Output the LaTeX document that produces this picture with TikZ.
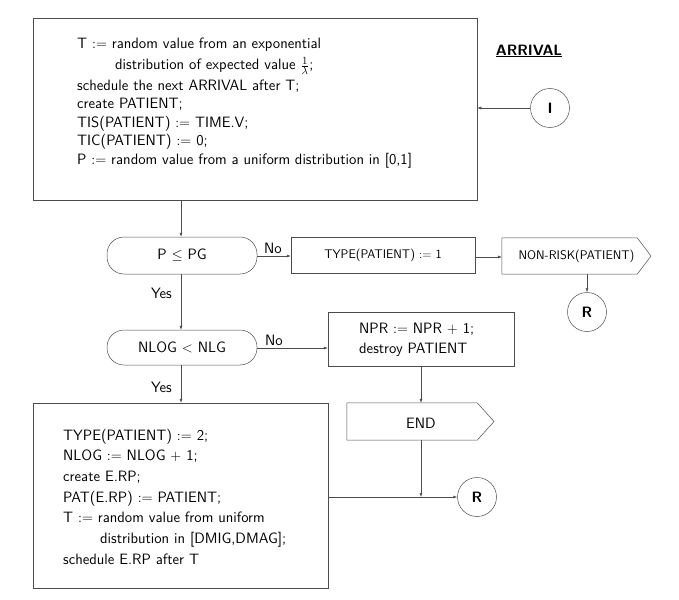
\documentclass[tikz,border=0pt]{standalone}
\usetikzlibrary{arrows.meta}
\begin{document}
\begin{tikzpicture}[x=1pt,y=-1pt,
  font=\fontsize{15}{18}\sffamily,
  line/.style={draw=black!70, line width=0.5pt},
  arr/.style={line, -{Latex[length=4pt,width=3pt]}},
  box/.style={line, rectangle, inner sep=0pt},
  pill/.style={line, rectangle, rounded corners=17pt, inner sep=0pt},
  circ/.style={line, circle, minimum size=39pt, inner sep=0pt, font=\fontsize{15}{18}\sffamily\bfseries},
  txt/.style={anchor=base west, inner sep=0pt},
  small/.style={font=\fontsize{12.5}{15}\sffamily},
  lab/.style={inner sep=0pt}]
\useasboundingbox (0,0) rectangle (679,599);

% top box
\node[box, minimum width=444pt, minimum height=182pt] (top) at (255,109) {};
\node[txt] (a1) at (77,49) {T $:=$ random value from an exponential};
\node[txt] (a2) at (115,70) {distribution of expected value $\frac{1}{\lambda}$;};
\node[txt] (a3) at (77,91) {schedule the next ARRIVAL after T;};
\node[txt] (a4) at (77,109) {create PATIENT;};
\node[txt] (a5) at (77,128) {TIS(PATIENT) $:=$ TIME.V;};
\node[txt] (a6) at (77,145) {TIC(PATIENT) $:=$ 0;};
\node[txt] (a7) at (77,164) {P $:=$ random value from a uniform distribution in [0,1]};

\node[lab, font=\fontsize{15}{18}\sffamily\bfseries] (arrival) at (529,51) {\underline{ARRIVAL}};
\node[circ] (I) at (550,108) {I};
\draw[arr] (I.west) -- (I.west -| top.east);

% decision P <= PG
\node[pill, minimum width=150pt, minimum height=37pt] (pg) at (182,255.5) {P $\leq$ PG};
\draw[arr] (top.south -| 181,0) -- (pg.north -| 181,0);
\node[box, small, minimum width=184pt, minimum height=36pt] (type1) at (383,255) {TYPE(PATIENT) $:=$ 1};
\draw[arr] (pg.east |- 0,256) -- (type1.west |- 0,256);
\node[lab, anchor=base west] (no1) at (264,253) {No};
\node[small, minimum width=135pt, minimum height=36pt, inner sep=0pt] (nonrisk) at (569.5,256) {};
\draw[line] (nonrisk.north west) -- (nonrisk.north east) -- (651,256) -- (nonrisk.south east) -- (nonrisk.south west) -- cycle;
\node[lab, small] (nrtext) at (576.5,256) {NON-RISK(PATIENT)};
\draw[arr] (type1.east |- 0,257) -- (nonrisk.west |- 0,257);
\node[circ] (R1) at (587,312) {R};
\draw[arr] (R1.north |- nonrisk.south) -- (R1.north);

% decision NLOG < NLG
\node[lab] (yes1) at (161.5,293) {Yes};
\node[pill, minimum width=150pt, minimum height=35pt] (nlog) at (182,347.5) {NLOG $<$ NLG};
\draw[arr] (pg.south -| 181,0) -- (nlog.north -| 181,0);
\node[box, minimum width=186pt, minimum height=54pt] (npr) at (421,339) {};
\node[txt] (n1) at (359,333) {NPR $:=$ NPR $+$ 1;};
\node[txt] (n2) at (359,353) {destroy PATIENT};
\draw[arr] (nlog.east |- 0,348) -- (npr.west |- 0,348);
\node[lab, anchor=base west] (no2) at (265,345) {No};

% END
\node[minimum width=130pt, minimum height=37pt, inner sep=0pt] (endn) at (412,421.5) {};
\draw[line] (endn.north west) -- (endn.north east) -- (494,421.5) -- (endn.south east) -- (endn.south west) -- cycle;
\node[lab] (endtext) at (421,423) {END};
\draw[arr] (npr.south -| 421,0) -- (endn.north -| 421,0);

% bottom box
\node[lab] (yes2) at (161.5,387) {Yes};
\node[box, minimum width=295pt, minimum height=185pt] (bot) at (180.5,495.5) {};
\draw[arr] (nlog.south -| 181,0) -- (bot.north -| 181,0);
\node[txt] (b1) at (63,440) {TYPE(PATIENT) $:=$ 2;};
\node[txt] (b2) at (63,460) {NLOG $:=$ NLOG $+$ 1;};
\node[txt] (b3) at (63,481) {create E.RP;};
\node[txt] (b4) at (63,502) {PAT(E.RP) $:=$ PATIENT;};
\node[txt] (b5) at (63,522) {T $:=$ random value from uniform};
\node[txt] (b6) at (100,543) {distribution in [DMIG,DMAG];};
\node[txt] (b7) at (63,564) {schedule E.RP after T};

\node[circ] (R2) at (477,497) {R};
\draw[arr] (bot.east |- R2) -- (R2.west);
\coordinate (join) at (421,497);
\draw[arr] (endn.south -| join) -- (join);
\end{tikzpicture}
\end{document}
